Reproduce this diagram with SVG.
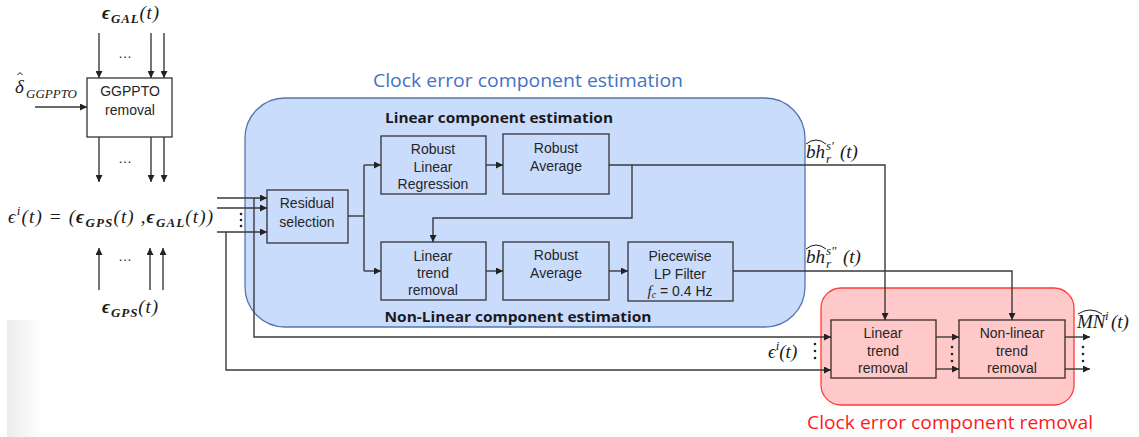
<svg xmlns="http://www.w3.org/2000/svg" width="1139" height="437" viewBox="0 0 1139 437">
<style>
.bx{fill:#ffffff;stroke:#333;stroke-width:1.3}
.bb{fill:#cadcfc;stroke:#333;stroke-width:1.3}
.br{fill:#ffc9c9;stroke:#3a2a2a;stroke-width:1.3}
.t{font-family:"Liberation Sans",Arial,sans-serif;font-size:14px;fill:#262626;text-anchor:middle}
.m{font-family:"Liberation Serif","DejaVu Serif",serif;font-style:italic;font-size:19px;fill:#1a1a1a}
.mb{font-weight:bold}
.sub{font-size:13px}
.c{fill:none;stroke:#3a3a3a;stroke-width:1.4}
.ti{font-family:"Open Sans","Liberation Sans",sans-serif;font-size:18px}
.st{font-family:"Open Sans","Liberation Sans",sans-serif;font-size:13.5px;font-weight:bold;fill:#1a1a1a}
.dot{fill:#222}
.hat{fill:none;stroke:#1a1a1a;stroke-width:1}
</style>
<defs>
<marker id="ar" viewBox="0 0 10 10" refX="10" refY="5" markerWidth="7" markerHeight="7" markerUnits="userSpaceOnUse" orient="auto">
<path d="M0,0 L10,5 L0,10 z" fill="#222"/>
</marker>
<linearGradient id="sh" x1="0" y1="0" x2="1" y2="0">
<stop offset="0" stop-color="#ececec"/>
<stop offset="1" stop-color="#ffffff"/>
</linearGradient>
</defs>
<rect width="1139" height="437" fill="#ffffff"/>
<rect x="7" y="320" width="35" height="117" fill="url(#sh)"/>

<!-- containers -->
<g id="clock-estimation">
<rect x="245" y="98" width="560" height="229" rx="40" ry="40" fill="#cadcfc" stroke="#5576b0" stroke-width="1.3"/>
<text x="528" y="87" class="ti" fill="#4472c4" text-anchor="middle" textLength="310" lengthAdjust="spacingAndGlyphs">Clock error component estimation</text>
<text x="499" y="123" class="st" text-anchor="middle" textLength="228" lengthAdjust="spacingAndGlyphs">Linear component estimation</text>
<text x="518" y="322" class="st" text-anchor="middle" textLength="267" lengthAdjust="spacingAndGlyphs">Non-Linear component estimation</text>
</g>
<g id="clock-removal">
<rect x="821" y="288" width="253" height="117" rx="20" ry="20" fill="#ffc9c9" stroke="#ff3b3b" stroke-width="1.3"/>
<text x="950" y="429" class="ti" fill="#ff1a1a" text-anchor="middle" textLength="286" lengthAdjust="spacingAndGlyphs">Clock error component removal</text>
</g>

<!-- connectors -->
<g id="connectors">
<path class="c" d="M99,33 V78" marker-end="url(#ar)"/>
<path class="c" d="M151,33 V78" marker-end="url(#ar)"/>
<path class="c" d="M164,33 V78" marker-end="url(#ar)"/>
<path class="c" d="M35,107 H87" marker-end="url(#ar)"/>
<path class="c" d="M99,137 V182" marker-end="url(#ar)"/>
<path class="c" d="M151,137 V182" marker-end="url(#ar)"/>
<path class="c" d="M164,137 V182" marker-end="url(#ar)"/>
<path class="c" d="M99,290 V248" marker-end="url(#ar)"/>
<path class="c" d="M150,290 V248" marker-end="url(#ar)"/>
<path class="c" d="M163,290 V248" marker-end="url(#ar)"/>

<path class="c" d="M217,198 H267" marker-end="url(#ar)"/>
<path class="c" d="M217,208 H267" marker-end="url(#ar)"/>
<path class="c" d="M217,232 H267" marker-end="url(#ar)"/>
<path class="c" d="M254,198 V337 H831" marker-end="url(#ar)"/>
<path class="c" d="M226,232 V370 H831" marker-end="url(#ar)"/>

<path class="c" d="M348,216 H364"/>
<path class="c" d="M364,165 V271"/>
<path class="c" d="M364,165 H381" marker-end="url(#ar)"/>
<path class="c" d="M364,271 H381" marker-end="url(#ar)"/>
<path class="c" d="M486,165 H503" marker-end="url(#ar)"/>
<path class="c" d="M609,165 H885 V320" marker-end="url(#ar)"/>
<path class="c" d="M632,165 V218 H433 V242" marker-end="url(#ar)"/>
<path class="c" d="M486,271 H503" marker-end="url(#ar)"/>
<path class="c" d="M609,271 H628" marker-end="url(#ar)"/>
<path class="c" d="M733,271 H1012 V320" marker-end="url(#ar)"/>
<path class="c" d="M936,337 H959" marker-end="url(#ar)"/>
<path class="c" d="M936,369 H959" marker-end="url(#ar)"/>
<path class="c" d="M1065,337 H1090" marker-end="url(#ar)"/>
<path class="c" d="M1065,369 H1090" marker-end="url(#ar)"/>
</g>

<!-- dots -->
<g id="dots">
<text x="125" y="58" class="t" font-size="15">…</text>
<text x="125" y="163" class="t" font-size="15">…</text>
<text x="125" y="261" class="t" font-size="15">…</text>
<circle class="dot" cx="241" cy="214" r="1.3"/><circle class="dot" cx="241" cy="220" r="1.3"/><circle class="dot" cx="241" cy="226" r="1.3"/>
<circle class="dot" cx="815" cy="344" r="1.3"/><circle class="dot" cx="815" cy="351" r="1.3"/><circle class="dot" cx="815" cy="358" r="1.3"/>
<circle class="dot" cx="952" cy="347" r="1.3"/><circle class="dot" cx="952" cy="354" r="1.3"/><circle class="dot" cx="952" cy="361" r="1.3"/>
<circle class="dot" cx="1083" cy="347" r="1.3"/><circle class="dot" cx="1083" cy="354" r="1.3"/><circle class="dot" cx="1083" cy="361" r="1.3"/>
</g>

<!-- nodes -->
<g id="ggppto">
<rect class="bx" x="87" y="78" width="85" height="59"/>
<text class="t" x="130" y="96">GGPPTO</text>
<text class="t" x="130" y="115">removal</text>
</g>
<g id="residual-selection">
<rect class="bb" x="267" y="190" width="81" height="53"/>
<text class="t" x="307" y="208">Residual</text>
<text class="t" x="307" y="227">selection</text>
</g>
<g id="robust-linear-regression">
<rect class="bb" x="381" y="136" width="105" height="58"/>
<text class="t" x="433" y="154">Robust</text>
<text class="t" x="433" y="172">Linear</text>
<text class="t" x="433" y="189">Regression</text>
</g>
<g id="robust-average-1">
<rect class="bb" x="503" y="134" width="106" height="60"/>
<text class="t" x="556" y="153">Robust</text>
<text class="t" x="556" y="171">Average</text>
</g>
<g id="linear-trend-removal-1">
<rect class="bb" x="381" y="242" width="105" height="58"/>
<text class="t" x="433" y="261">Linear</text>
<text class="t" x="433" y="278">trend</text>
<text class="t" x="433" y="295">removal</text>
</g>
<g id="robust-average-2">
<rect class="bb" x="503" y="242" width="106" height="58"/>
<text class="t" x="556" y="260">Robust</text>
<text class="t" x="556" y="278">Average</text>
</g>
<g id="piecewise-lp-filter">
<rect class="bb" x="628" y="242" width="105" height="59"/>
<text class="t" x="680" y="261">Piecewise</text>
<text class="t" x="680" y="279">LP Filter</text>
<text class="t" x="680" y="296"><tspan font-family="Liberation Serif,serif" font-style="italic" font-size="15">f<tspan font-size="10" dy="2">c</tspan></tspan><tspan dy="-2"> = 0.4 Hz</tspan></text>
</g>
<g id="linear-trend-removal-2">
<rect class="br" x="831" y="320" width="105" height="58"/>
<text class="t" x="883" y="338">Linear</text>
<text class="t" x="883" y="356">trend</text>
<text class="t" x="883" y="373">removal</text>
</g>
<g id="nonlinear-trend-removal">
<rect class="br" x="959" y="320" width="106" height="58"/>
<text class="t" x="1012" y="338">Non-linear</text>
<text class="t" x="1012" y="356">trend</text>
<text class="t" x="1012" y="373">removal</text>
</g>

<!-- math labels -->
<g id="labels">
<text class="m" x="102" y="19" textLength="57" lengthAdjust="spacing"><tspan class="mb">ϵ</tspan><tspan class="sub mb" dy="4">GAL</tspan><tspan dy="-4">(t)</tspan></text>

<text class="m" x="15" y="93">δ</text>
<path class="hat" d="M17.5,75 L20,72.5 L22.5,75"/>
<text class="m sub" x="26" y="98" textLength="51" lengthAdjust="spacing">GGPPTO</text>

<text class="m" x="8" y="223" textLength="205" lengthAdjust="spacing">ϵ<tspan class="sub" dy="-8">i</tspan><tspan dy="8">(t) = (</tspan><tspan class="mb">ϵ</tspan><tspan class="sub mb" dy="4">GPS</tspan><tspan dy="-4">(t) ,</tspan><tspan class="mb">ϵ</tspan><tspan class="sub mb" dy="4">GAL</tspan><tspan dy="-4">(t))</tspan></text>
<text class="m" x="102" y="313" textLength="56" lengthAdjust="spacing"><tspan class="mb">ϵ</tspan><tspan class="sub mb" dy="4">GPS</tspan><tspan dy="-4">(t)</tspan></text>

<text class="m" x="806" y="158">bh</text>
<path class="hat" d="M806,144 Q816,136 826,144"/>
<text class="m sub" x="826" y="150" font-size="14">s′</text>
<text class="m sub" x="826" y="163">r</text>
<text class="m" x="840" y="158">(t)</text>

<text class="m" x="806" y="263">bh</text>
<path class="hat" d="M806,249 Q816,241 826,249"/>
<text class="m sub" x="826" y="255" font-size="14">s″</text>
<text class="m sub" x="826" y="268">r</text>
<text class="m" x="843" y="263">(t)</text>

<text class="m" x="768" y="358">ϵ<tspan class="sub" dy="-8">i</tspan><tspan dy="8">(t)</tspan></text>

<text class="m" x="1077" y="328">MN</text>
<path class="hat" d="M1078,314 Q1090,306 1102,314"/>
<text class="m sub" x="1105" y="320">i</text>
<text class="m" x="1111" y="328">(t)</text>
</g>
</svg>
